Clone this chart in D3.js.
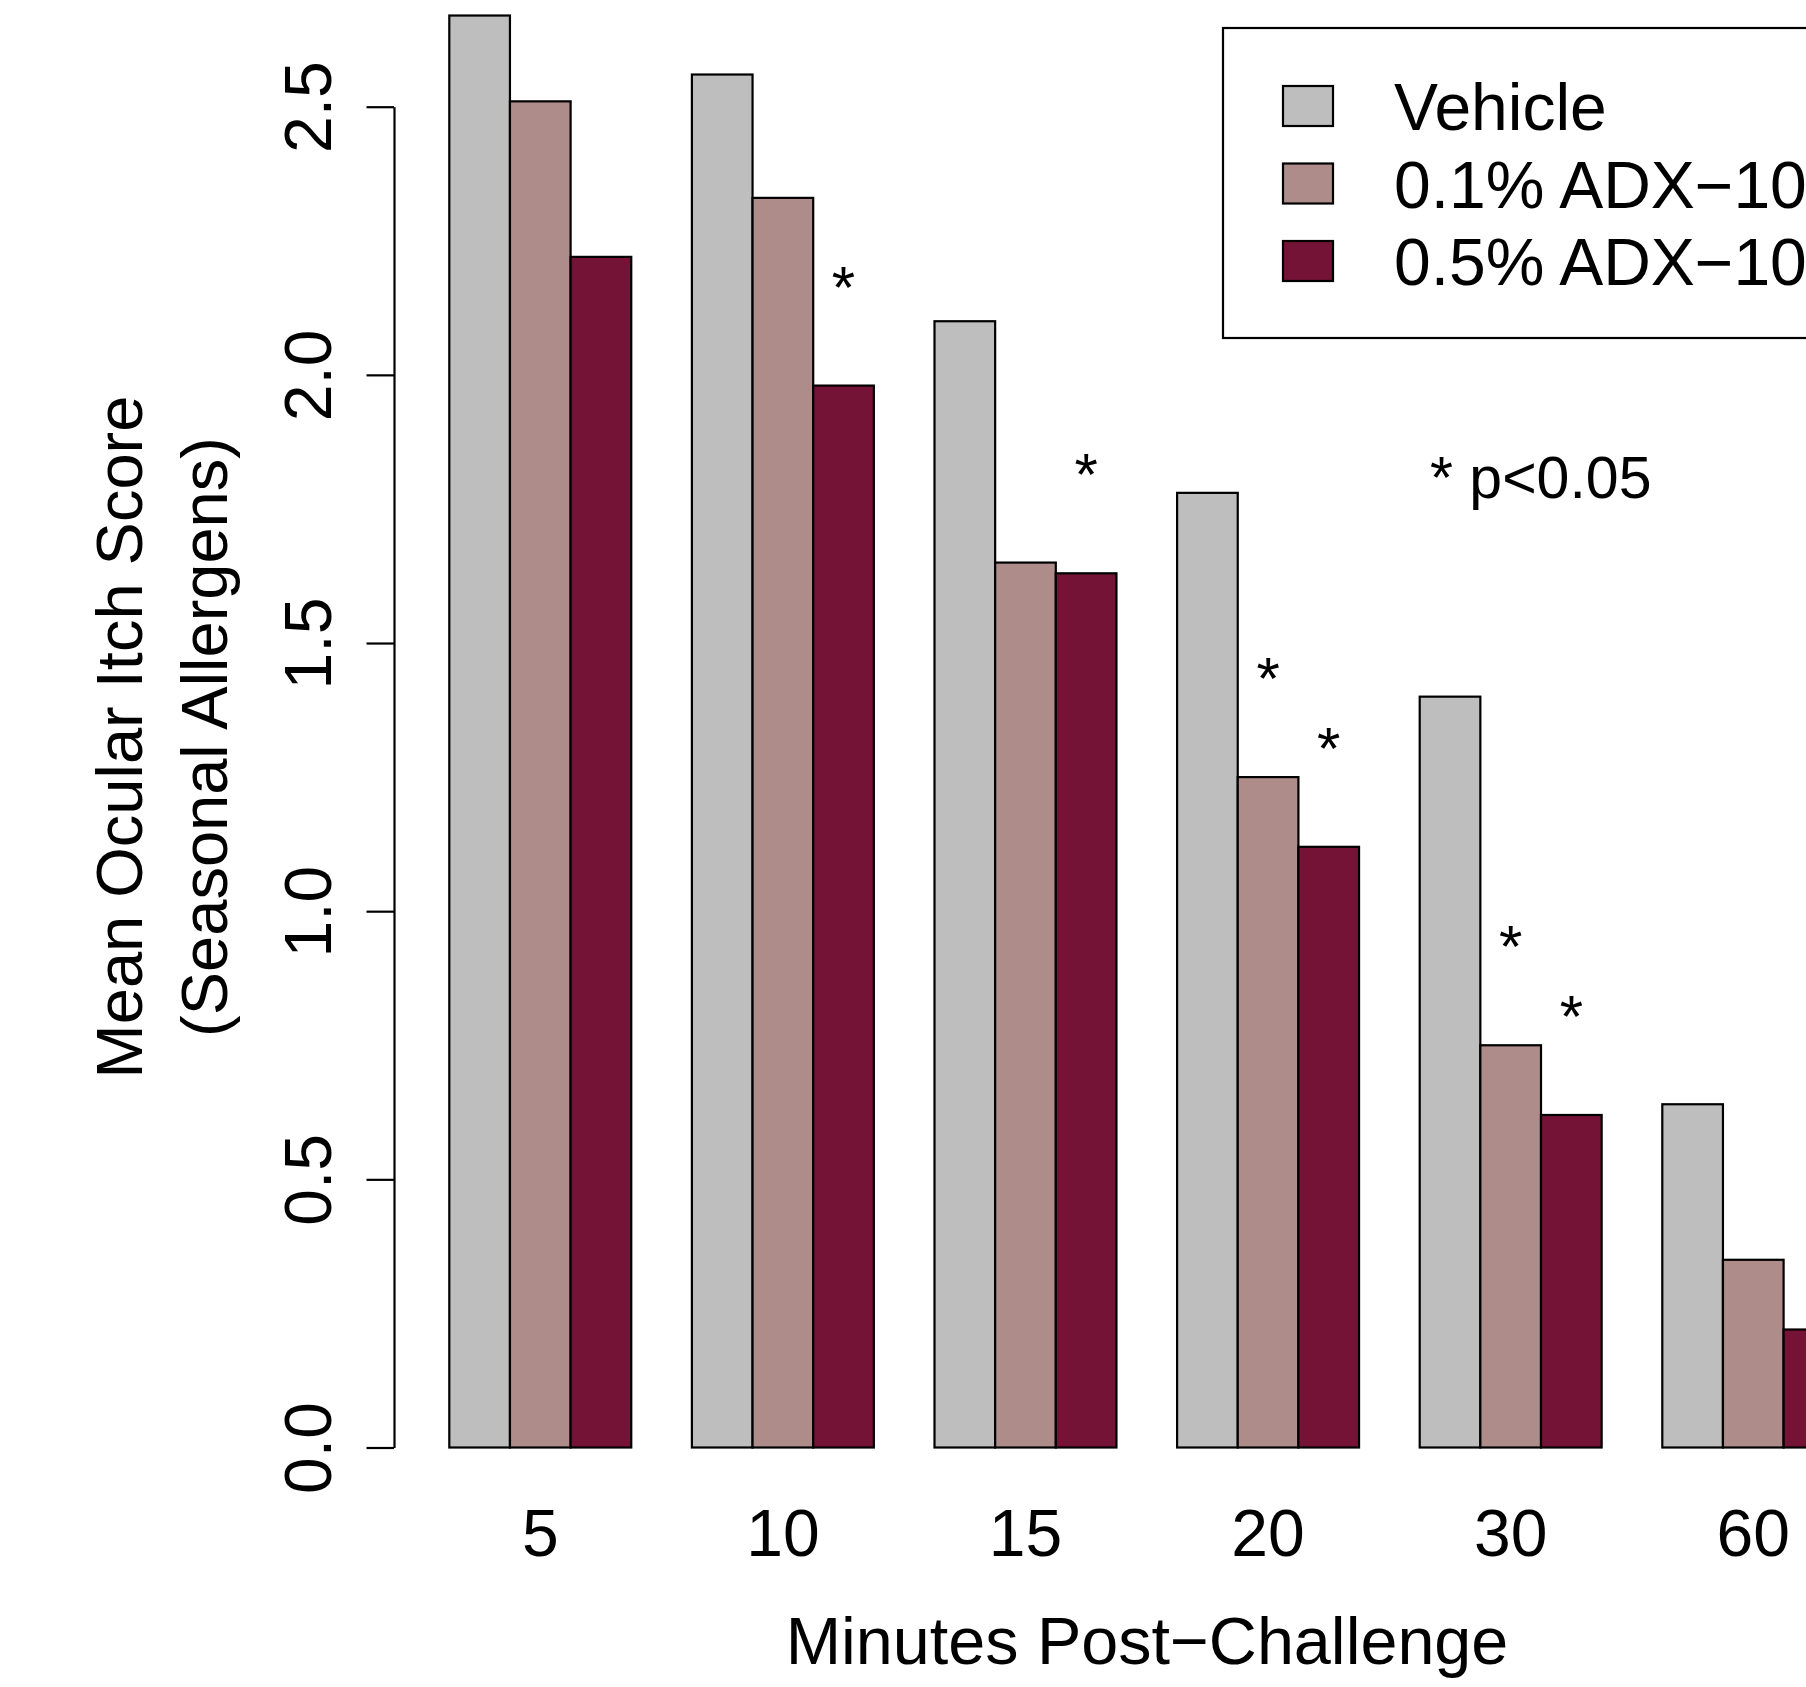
<!DOCTYPE html>
<html>
<head>
<meta charset="utf-8">
<script src="https://cdn.jsdelivr.net/npm/d3@7/dist/d3.min.js"></script>
<style>
  html, body { margin: 0; padding: 0; background: #fff; }
  svg { display: block; }
  text { font-family: "Liberation Sans", Arial, Helvetica, sans-serif; fill: #000; }
</style>
</head>
<body>
<svg id="chart" width="1806" height="1687"></svg>
<script>
// ---- data ----
const categories = ["5", "10", "15", "20", "30", "60"];
const seriesNames = ["Vehicle", "0.1% ADX\u2212102", "0.5% ADX\u2212102"];
const vehicle = [2.67, 2.56, 2.10, 1.78, 1.40, 0.64];
const adx01   = [2.51, 2.33, 1.65, 1.25, 0.75, 0.35];
const adx05   = [2.22, 1.98, 1.63, 1.12, 0.62, 0.22];
const sigVehicle = [false, false, false, false, false, false];
const sig01      = [false, false, false, true,  true,  false];
const sig05      = [false, true,  true,  true,  true,  false];
const yTicks = [0, 0.5, 1.0, 1.5, 2.0, 2.5];
const xTitle = "Minutes Post\u2212Challenge";
const yTitle1 = "Mean Ocular Itch Score";
const yTitle2 = "(Seasonal Allergens)";
const noteText = "* p<0.05";

const seriesValues = [vehicle, adx01, adx05];
const seriesSig = [sigVehicle, sig01, sig05];
const colors = ["#BEBEBE", "#AE8C8A", "#741335"];

// ---- layout ----
const svg = d3.select("#chart");
const FS = 66;
const barW = 60.65;
const step = 4 * barW;
const x0 = 449.3;

const y = d3.scaleLinear().domain([0, 2.5]).range([1447.5, 106.7]);

const xGroup = d3.scaleBand()
  .domain(categories)
  .range([x0, x0 + step * (categories.length - 0.25)])
  .paddingInner(0.25)
  .paddingOuter(0);

const xSeries = d3.scaleBand()
  .domain(d3.range(seriesNames.length))
  .range([0, xGroup.bandwidth()])
  .padding(0);

// table built from arrays
const table = [];
categories.forEach((c, i) => {
  seriesValues.forEach((vals, s) => {
    table.push({ cat: c, s: s, v: vals[i], sig: seriesSig[s][i] });
  });
});

// ---- bars ----
svg.append("g").selectAll("rect")
  .data(table)
  .join("rect")
  .attr("x", d => xGroup(d.cat) + xSeries(d.s))
  .attr("y", d => y(d.v))
  .attr("width", xSeries.bandwidth())
  .attr("height", d => y(0) - y(d.v))
  .attr("fill", d => colors[d.s])
  .attr("stroke", "#000")
  .attr("stroke-width", 2.2);

// ---- significance asterisks ----
svg.append("g").selectAll("text")
  .data(table.filter(d => d.sig))
  .join("text")
  .attr("x", d => xGroup(d.cat) + xSeries(d.s) + xSeries.bandwidth() / 2)
  .attr("y", d => y(d.v) - 78)
  .attr("text-anchor", "middle")
  .attr("font-size", 60)
  .text("*");

// ---- y axis ----
const yAxis = svg.append("g")
  .attr("transform", "translate(394,0)")
  .call(d3.axisLeft(y).tickValues(yTicks).tickFormat(d3.format(".1f"))
    .tickSize(27.5).tickSizeOuter(0));
yAxis.select(".domain").attr("stroke", "#000").attr("stroke-width", 2.2);
yAxis.selectAll(".tick line").attr("stroke", "#000").attr("stroke-width", 2.2);
yAxis.selectAll(".tick text")
  .attr("x", null).attr("dy", null)
  .attr("transform", "translate(-63.3,0) rotate(-90)")
  .attr("text-anchor", "middle")
  .attr("font-size", FS)
  .attr("font-family", "Liberation Sans, Arial, sans-serif")
  .attr("fill", "#000");

// ---- x axis (labels only) ----
const xAxis = svg.append("g")
  .attr("transform", "translate(0,1556)")
  .call(d3.axisBottom(xGroup).tickSize(0));
xAxis.select(".domain").remove();
xAxis.selectAll(".tick text")
  .attr("y", 0).attr("dy", null)
  .attr("font-size", FS)
  .attr("font-family", "Liberation Sans, Arial, sans-serif")
  .attr("fill", "#000");

// ---- axis titles ----
svg.append("text")
  .attr("x", 1147).attr("y", 1664)
  .attr("text-anchor", "middle")
  .attr("font-size", 66.5)
  .text(xTitle);

svg.append("text")
  .attr("transform", "translate(141.7,737) rotate(-90)")
  .attr("text-anchor", "middle")
  .attr("font-size", 65)
  .text(yTitle1);
svg.append("text")
  .attr("transform", "translate(226.7,737) rotate(-90)")
  .attr("text-anchor", "middle")
  .attr("font-size", 65)
  .text(yTitle2);

// ---- note ----
svg.append("text")
  .attr("x", 1430).attr("y", 498.3)
  .attr("font-size", 59)
  .text(noteText);

// ---- legend ----
const lg = svg.append("g");
lg.append("rect")
  .attr("x", 1223).attr("y", 28)
  .attr("width", 700).attr("height", 310)
  .attr("fill", "none").attr("stroke", "#000").attr("stroke-width", 2.2);
const rowY = [86, 163.5, 241];
const rows = lg.selectAll("g.row")
  .data(seriesNames)
  .join("g").attr("class", "row")
  .attr("transform", (d, i) => `translate(0,${rowY[i]})`);
rows.append("rect")
  .attr("x", 1283).attr("y", 0)
  .attr("width", 50).attr("height", 40)
  .attr("fill", (d, i) => colors[i])
  .attr("stroke", "#000").attr("stroke-width", 2.2);
rows.append("text")
  .attr("x", 1394).attr("y", 44)
  .attr("font-size", FS)
  .text(d => d);
</script>
</body>
</html>
